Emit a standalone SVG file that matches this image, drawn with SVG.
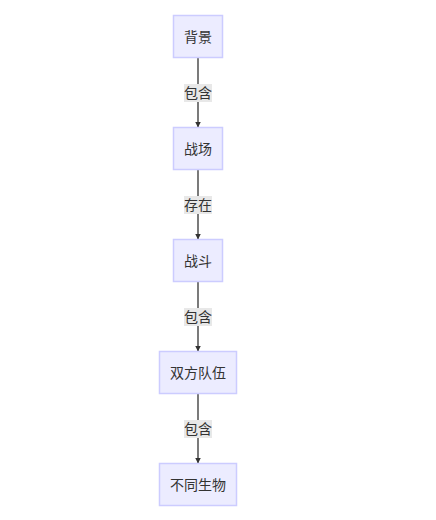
<svg xmlns="http://www.w3.org/2000/svg" width="436" height="520" viewBox="0 0 436 520">
<style>
.node rect{fill:#ECECFF;stroke:#CCCCFF;stroke-width:1.5}
.node text{font-family:"Liberation Sans","Noto Sans CJK SC",sans-serif;font-size:14px;fill:#333;text-anchor:middle;dominant-baseline:central}
.edge line{stroke:#333;stroke-width:1.3;fill:none}
.lbl rect{fill:#E8E8E8;stroke:none}
.lbl text{font-family:"Liberation Sans","Noto Sans CJK SC",sans-serif;font-size:14px;fill:#333;text-anchor:middle;dominant-baseline:central}
</style>
<defs>
<marker id="arr" viewBox="0 0 10 10" refX="10" refY="5" markerWidth="6" markerHeight="6" orient="auto" markerUnits="userSpaceOnUse">
<path d="M0,0 L10,5 L0,10 z" fill="#333"/>
</marker>
</defs>
<rect width="436" height="520" fill="#fff"/>
<g id="connectors">
<g class="edge">
<line x1="198" y1="57.5" x2="198" y2="127.5" marker-end="url(#arr)"/>
<line x1="198" y1="169.5" x2="198" y2="239.5" marker-end="url(#arr)"/>
<line x1="198" y1="281.5" x2="198" y2="351.5" marker-end="url(#arr)"/>
<line x1="198" y1="393.5" x2="198" y2="463.5" marker-end="url(#arr)"/>
</g>
<g class="lbl">
<rect x="184" y="84" width="28" height="18"/><text x="198" y="93">包含</text>
<rect x="184" y="196" width="28" height="18"/><text x="198" y="205">存在</text>
<rect x="184" y="308" width="28" height="18"/><text x="198" y="317">包含</text>
<rect x="184" y="420" width="28" height="18"/><text x="198" y="429">包含</text>
</g>
</g>
<g id="n1" class="node"><rect x="173.5" y="15.5" width="49" height="42"/><text x="198" y="37">背景</text></g>
<g id="n2" class="node"><rect x="173.5" y="127.5" width="49" height="42"/><text x="198" y="149">战场</text></g>
<g id="n3" class="node"><rect x="173.5" y="239.5" width="49" height="42"/><text x="198" y="261">战斗</text></g>
<g id="n4" class="node"><rect x="159.5" y="351.5" width="77" height="42"/><text x="198" y="373">双方队伍</text></g>
<g id="n5" class="node"><rect x="159.5" y="463.5" width="77" height="42"/><text x="198" y="485">不同生物</text></g>
</svg>
